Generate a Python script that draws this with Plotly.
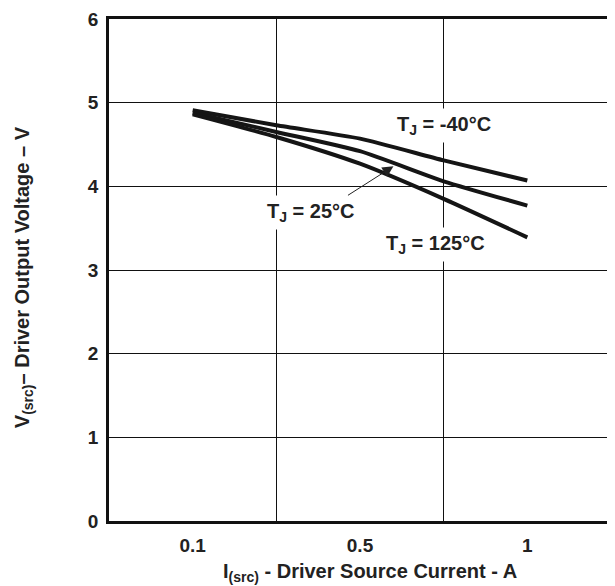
import plotly.graph_objects as go

# Data (x positions on the categorical-like current axis: 0 -> 0.1 A, 1 -> 0.5 A, 2 -> 1 A)
x_pos = [0, 0.5, 1.0, 1.5, 2.0]
v_m40 = [4.91, 4.73, 4.57, 4.31, 4.07]
v_25 = [4.88, 4.65, 4.42, 4.06, 3.77]
v_125 = [4.86, 4.59, 4.27, 3.85, 3.39]
x_tick_vals = [0, 1, 2]
x_tick_text = ["0.1", "0.5", "1"]
y_tick_vals = [0, 1, 2, 3, 4, 5, 6]

FONT = "Liberation Sans, Arial, sans-serif"
LINE = "#151515"
TXT = "#222"

fig = go.Figure()
for ys in (v_m40, v_25, v_125):
    fig.add_trace(go.Scatter(x=x_pos, y=ys, mode="lines",
                             line=dict(color=LINE, width=4, shape="spline", smoothing=0.6),
                             showlegend=False, hoverinfo="skip"))

lab_font = dict(family=FONT, size=20, color=TXT, weight="bold")
fig.add_annotation(x=1.5, y=4.73, text="T<sub>J</sub> = -40°C", showarrow=False,
                   font=lab_font, bgcolor="white", borderpad=4)
fig.add_annotation(x=0.71, y=3.69, text="T<sub>J</sub> = 25°C", showarrow=False,
                   font=lab_font, bgcolor="white", borderpad=4)
fig.add_annotation(x=1.45, y=3.31, text="T<sub>J</sub> = 125°C", showarrow=False,
                   font=lab_font, bgcolor="white", borderpad=4)
fig.add_annotation(x=1.2, y=4.24, ax=-47, ay=30, text="", showarrow=True,
                   arrowhead=2, arrowsize=2.2, arrowwidth=1, arrowcolor="#222")

title_font = dict(family=FONT, size=20, color=TXT, weight="bold")
fig.add_annotation(xref="paper", yref="paper", x=0.519, y=-0.103,
                   text="I<sub>(src)</sub> - Driver Source Current - A",
                   showarrow=False, font=title_font, xanchor="center", yanchor="middle")
fig.add_annotation(xref="paper", yref="paper", x=-0.17, y=0.485,
                   text="V<sub>(src)</sub>– Driver Output Voltage – V", textangle=-90,
                   showarrow=False, font=title_font, xanchor="center", yanchor="middle")

fig.update_xaxes(range=[-0.5, 2.5], tickmode="array", tickvals=x_tick_vals, ticktext=x_tick_text,
                 showgrid=False, zeroline=False, showline=True, mirror=True,
                 linecolor="#111", linewidth=2.5,
                 ticks="outside", ticklen=5, tickcolor="rgba(0,0,0,0)",
                 tickfont=dict(family=FONT, size=19, color=TXT, weight="bold"),
                 minor=dict(tickmode="linear", tick0=0.5, dtick=1, showgrid=True,
                            gridcolor="#111", gridwidth=1, ticks=""))
fig.update_yaxes(range=[0, 6], tickmode="array", tickvals=y_tick_vals,
                 showgrid=True, gridcolor="#111", gridwidth=1, zeroline=False,
                 showline=True, mirror=True, linecolor="#111", linewidth=2.5,
                 ticks="outside", ticklen=4, tickcolor="rgba(0,0,0,0)",
                 ticklabeloverflow="allow",
                 tickfont=dict(family=FONT, size=19, color=TXT, weight="bold"))

# page body has an 8px margin, so the figure is shrunk and offset to land on the reference frame
fig.update_layout(width=607, height=578, margin=dict(l=101, r=1, t=7, b=65),
                  plot_bgcolor="white", paper_bgcolor="white")
fig.write_html("out.html")
